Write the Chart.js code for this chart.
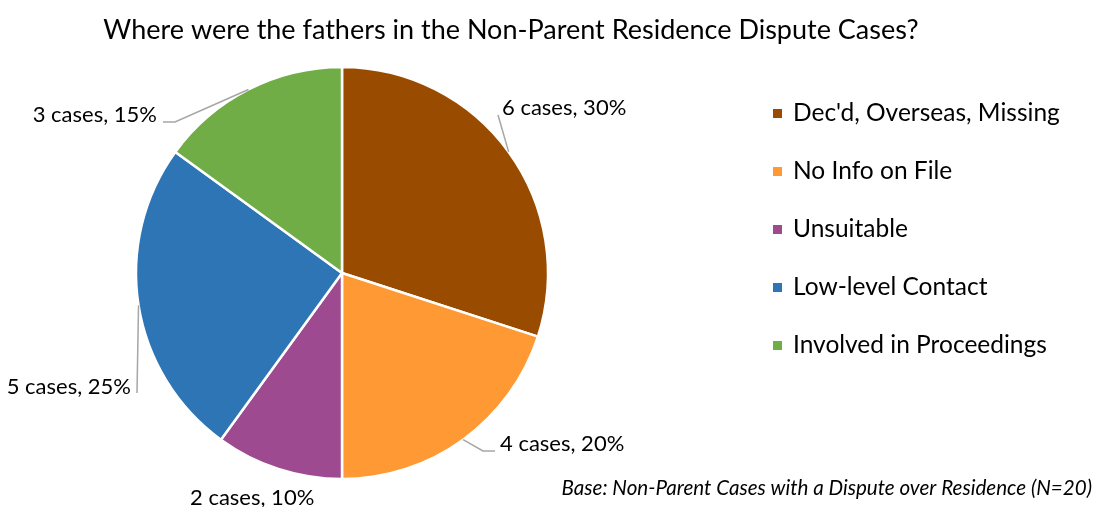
<!DOCTYPE html>
<html><head><meta charset="utf-8">
<script src="https://cdn.jsdelivr.net/npm/chart.js@4"></script>
<style>html,body{margin:0;padding:0;background:#fff;}#wrap{width:1095px;height:507px;position:relative;}</style>
</head><body><div id="wrap"><canvas id="c" width="1095" height="507"></canvas></div>
<script>
const categories = ["Dec'd, Overseas, Missing", "No Info on File", "Unsuitable", "Low-level Contact", "Involved in Proceedings"];
const caseCounts = [6, 4, 2, 5, 3];
const percentLabels = ["30%", "20%", "10%", "25%", "15%"];
const colors = ["#994C00", "#FF9933", "#9E4A91", "#2E75B6", "#70AD47"];
const titleText = "Where were the fathers in the Non-Parent Residence Dispute Cases?";
const footnoteText = "Base: Non-Parent Cases with a Dispute over Residence (N=20)";

const FONT = "Lato, 'Open Sans', sans-serif";
// label placement (style): text anchor relative to pie center, alignment, leader elbow relative to pie center
const labelStyle = [
  {dx: 160, dy: -165, align: 'left', leader: [[156, -158]]},
  {dx: 158, dy: 171, align: 'left', leader: [[141, 178], [153, 178]]},
  {dx: -152, dy: 225, align: 'left', leader: null},
  {dx: -211, dy: 114, align: 'right', leader: [[-205, 120]]},
  {dx: -185, dy: -158, align: 'right', leader: [[-167, -151], [-179, -151]]}
];

const overlay = {
  id: 'overlay',
  afterDatasetsDraw(chart) {
    const ctx = chart.ctx;
    const meta = chart.getDatasetMeta(0);
    ctx.save();
    // title
    ctx.fillStyle = '#000';
    ctx.font = "27px " + FONT;
    ctx.textAlign = 'center'; ctx.textBaseline = 'middle';
    ctx.fillText(titleText, 511, 30);
    // data labels with leader lines
    ctx.font = "22px " + FONT;
    meta.data.forEach((arc, i) => {
      const st = labelStyle[i];
      const cx = arc.x, cy = arc.y;
      const mid = (arc.startAngle + arc.endAngle) / 2;
      const r = arc.outerRadius;
      if (st.leader) {
        ctx.strokeStyle = '#A6A6A6'; ctx.lineWidth = 1.5;
        ctx.beginPath();
        ctx.moveTo(cx + Math.cos(mid) * r, cy + Math.sin(mid) * r);
        st.leader.forEach(p => ctx.lineTo(cx + p[0], cy + p[1]));
        ctx.stroke();
      }
      ctx.fillStyle = '#000';
      ctx.textAlign = st.align; ctx.textBaseline = 'middle';
      ctx.fillText(caseCounts[i] + ' cases, ' + percentLabels[i], cx + st.dx, cy + st.dy);
    });
    // legend
    ctx.font = "24.5px " + FONT;
    ctx.textAlign = 'left'; ctx.textBaseline = 'middle';
    categories.forEach((c, i) => {
      const y = 113 + i * 58;
      ctx.fillStyle = colors[i];
      ctx.fillRect(773, y - 4, 9, 9);
      ctx.fillStyle = '#000';
      ctx.fillText(c, 793, y);
    });
    // footnote
    ctx.font = "italic 20.6px " + FONT;
    ctx.textAlign = 'right';
    ctx.fillText(footnoteText, 1092, 488);
    ctx.restore();
  }
};

new Chart(document.getElementById('c'), {
  type: 'pie',
  data: {
    labels: categories,
    datasets: [{
      data: caseCounts,
      backgroundColor: colors,
      borderColor: '#ffffff',
      borderWidth: 2.5,
      hoverOffset: 0
    }]
  },
  options: {
    responsive: false,
    animation: false,
    radius: 206,
    layout: {padding: {left: 137, right: 548, top: 68, bottom: 29}},
    plugins: {legend: {display: false}, tooltip: {enabled: false}, title: {display: false}}
  },
  plugins: [overlay]
});
</script></body></html>
